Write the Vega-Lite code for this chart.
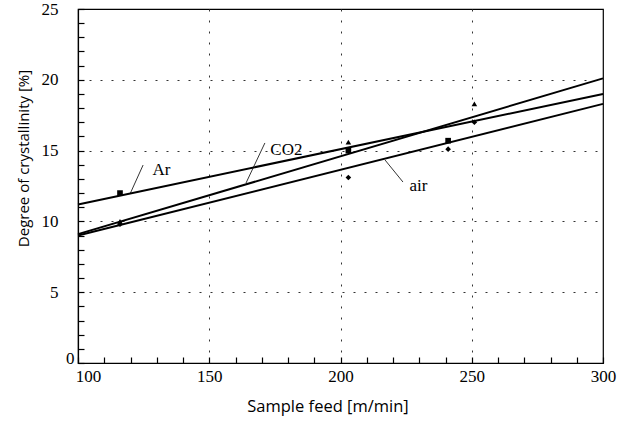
{
  "$schema": "https://vega.github.io/schema/vega-lite/v6.json",
  "width": 525,
  "height": 354,
  "autosize": "none",
  "padding": {"left": 78, "top": 9, "right": 29, "bottom": 59},
  "background": "white",
  "config": {
    "view": {"stroke": "black", "strokeWidth": 1.2},
    "axis": {"domainColor": "black", "domainWidth": 1.2, "ticks": true, "tickColor": "black", "tickWidth": 1.2, "tickOpacity": 1, "labelColor": "black", "titleColor": "black", "labelFont": "Liberation Serif", "labelFontSize": 17, "titleFont": "Open Sans", "titleFontWeight": "normal", "gridColor": "#333", "gridDash": [2, 9], "gridWidth": 1, "labelOverlap": false, "format": "d"}
  },
  "datasets": {
    "lines": [
      {"gas": "Ar", "feed": 100, "cryst": 11.2},
      {"gas": "Ar", "feed": 300, "cryst": 19.0},
      {"gas": "CO2", "feed": 100, "cryst": 9.1},
      {"gas": "CO2", "feed": 300, "cryst": 20.1},
      {"gas": "air", "feed": 100, "cryst": 9.0},
      {"gas": "air", "feed": 300, "cryst": 18.3}
    ],
    "points": [
      {"gas": "Ar", "feed": 116, "cryst": 12.0},
      {"gas": "Ar", "feed": 203, "cryst": 15.0},
      {"gas": "Ar", "feed": 241, "cryst": 15.7},
      {"gas": "CO2", "feed": 116, "cryst": 10.0},
      {"gas": "CO2", "feed": 203, "cryst": 15.6},
      {"gas": "CO2", "feed": 251, "cryst": 18.3},
      {"gas": "air", "feed": 116, "cryst": 9.8},
      {"gas": "air", "feed": 203, "cryst": 13.1},
      {"gas": "air", "feed": 241, "cryst": 15.1},
      {"gas": "air", "feed": 251, "cryst": 17.0}
    ],
    "labels": [
      {"text": "Ar", "feed": 131.8, "cryst": 13.3},
      {"text": "CO2", "feed": 179.4, "cryst": 14.7},
      {"text": "air", "feed": 229.7, "cryst": 12.15}
    ],
    "leaders": [
      {"x1": 119.8, "y1": 11.93, "x2": 124.8, "y2": 13.98},
      {"x1": 171.2, "y1": 15.54, "x2": 164.0, "y2": 12.71},
      {"x1": 216.95, "y1": 14.34, "x2": 223.8, "y2": 12.78}
    ]
  },
  "layer": [
    {
      "data": {"name": "lines"},
      "mark": {"type": "line", "color": "black", "strokeWidth": 2},
      "encoding": {
        "x": {"field": "feed", "type": "quantitative", "scale": {"domain": [100, 300], "nice": false},
          "axis": {"title": "Sample feed [m/min]", "values": [100,110,120,130,140,150,160,170,180,190,200,210,220,230,240,250,260,270,280,290,300],
            "tickCount": 30,
            "labelExpr": "datum.value % 50 === 0 ? datum.label : ''",
            "labelFlush": false,
            "labelOffset": {"condition": {"test": "datum.value === 100", "value": 10}, "value": 0},
            "gridOpacity": {"condition": {"test": "datum.value % 50 !== 0 || datum.value === 100 || datum.value === 300", "value": 0}, "value": 1},
            "tickSize": -6, "labelPadding": 11, "titleFontSize": 16.5, "titleX": 249.5, "titleY": 43, "titleBaseline": "middle", "titleAlign": "center"}},
        "y": {"field": "cryst", "type": "quantitative", "scale": {"domain": [0, 25], "nice": false},
          "axis": {"title": "Degree of crystallinity [%]", "values": [0,1,2,3,4,5,6,7,8,9,10,11,12,13,14,15,16,17,18,19,20,21,22,23,24,25],
            "tickCount": 30,
            "labelExpr": "datum.value % 5 === 0 ? datum.label : ''",
            "labelFlush": false,
            "labelOffset": {"condition": {"test": "datum.value === 0", "value": -5}, "value": 0},
            "labelPadding": {"condition": {"test": "datum.value === 0", "value": 10}, "value": 26},
            "gridOpacity": {"condition": {"test": "datum.value % 5 !== 0 || datum.value === 0 || datum.value === 25", "value": 0}, "value": 1},
            "tickSize": -6, "titleFontSize": 15, "titleX": -55, "titleY": 149, "titleBaseline": "middle", "titleAlign": "center", "titleAngle": -90}},
        "detail": {"field": "gas"}
      }
    },
    {
      "data": {"name": "points"},
      "mark": {"type": "point", "filled": true, "color": "black", "opacity": 1, "size": 32},
      "encoding": {
        "x": {"field": "feed", "type": "quantitative"},
        "y": {"field": "cryst", "type": "quantitative"},
        "shape": {"field": "gas", "type": "nominal", "scale": {"domain": ["Ar", "CO2", "air"], "range": ["square", "triangle-up", "diamond"]}, "legend": null}
      }
    },
    {
      "data": {"name": "leaders"},
      "mark": {"type": "rule", "color": "black", "strokeWidth": 0.8},
      "encoding": {
        "x": {"field": "x1", "type": "quantitative"},
        "y": {"field": "y1", "type": "quantitative"},
        "x2": {"field": "x2"},
        "y2": {"field": "y2"}
      }
    },
    {
      "data": {"name": "labels"},
      "mark": {"type": "text", "font": "Liberation Serif", "fontSize": 17, "color": "black", "align": "center", "baseline": "alphabetic"},
      "encoding": {
        "x": {"field": "feed", "type": "quantitative"},
        "y": {"field": "cryst", "type": "quantitative"},
        "text": {"field": "text"}
      }
    }
  ]
}
